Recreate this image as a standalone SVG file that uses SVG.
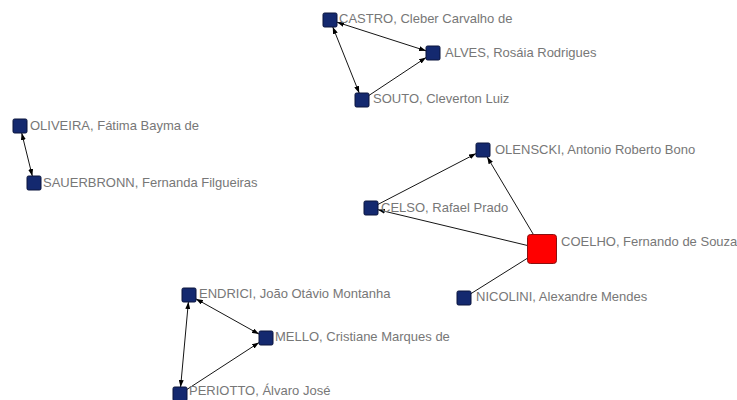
<svg xmlns="http://www.w3.org/2000/svg" width="737" height="400" viewBox="0 0 737 400">
<style>
.n{fill:#14296f;stroke:#0a143c;stroke-width:1}
.big{fill:#ff0000;stroke:#8a1010;stroke-width:1}
.e{stroke:#151515;stroke-width:1;fill:none}
.t{font-family:"Liberation Sans",Arial,sans-serif;font-size:13px;fill:#777777}
</style>
<defs>
<marker id="ah" viewBox="0 0 7 5" refX="7" refY="2.5" markerWidth="7" markerHeight="5" markerUnits="userSpaceOnUse" orient="auto-start-reverse">
<path d="M0,0 L7,2.5 L0,5 z" fill="#000"/>
</marker>
</defs>
<rect width="737" height="400" fill="#fff"/>
<g id="connectors">
<line class="e" x1="337" y1="22.2" x2="426" y2="50.8" marker-start="url(#ah)" marker-end="url(#ah)"/>
<line class="e" x1="332.8" y1="27" x2="359.2" y2="93" marker-start="url(#ah)" marker-end="url(#ah)"/>
<line class="e" x1="369" y1="95.4" x2="426" y2="57.6" marker-end="url(#ah)"/>
<line class="e" x1="21.7" y1="133" x2="32.3" y2="176" marker-start="url(#ah)" marker-end="url(#ah)"/>
<line class="e" x1="378" y1="204.4" x2="476" y2="153.6" marker-end="url(#ah)"/>
<line class="e" x1="533.4" y1="234.5" x2="487.2" y2="157" marker-end="url(#ah)"/>
<line class="e" x1="527.5" y1="245.5" x2="378" y2="209.7" marker-end="url(#ah)"/>
<line class="e" x1="471" y1="293.6" x2="530" y2="256.6"/>
<line class="e" x1="196" y1="298.9" x2="259" y2="334.1" marker-start="url(#ah)" marker-end="url(#ah)"/>
<line class="e" x1="188.4" y1="302" x2="180.6" y2="387" marker-start="url(#ah)" marker-end="url(#ah)"/>
<line class="e" x1="187" y1="389.4" x2="259" y2="342.6" marker-end="url(#ah)"/>
</g>
<g id="castro"><rect class="n" x="323" y="13" width="14" height="14" rx="1.5"/><text class="t" x="339" y="23">CASTRO, Cleber Carvalho de</text></g>
<g id="alves"><rect class="n" x="426" y="46" width="14" height="14" rx="1.5"/><text class="t" x="445" y="57">ALVES, Rosáia Rodrigues</text></g>
<g id="souto"><rect class="n" x="355" y="93" width="14" height="14" rx="1.5"/><text class="t" x="373" y="103">SOUTO, Cleverton Luiz</text></g>
<g id="oliveira"><rect class="n" x="13" y="119" width="14" height="14" rx="1.5"/><text class="t" x="30" y="130">OLIVEIRA, Fátima Bayma de</text></g>
<g id="sauerbronn"><rect class="n" x="27" y="176" width="14" height="14" rx="1.5"/><text class="t" x="43" y="186.5">SAUERBRONN, Fernanda Filgueiras</text></g>
<g id="olenscki"><rect class="n" x="476" y="143" width="14" height="14" rx="1.5"/><text class="t" x="495" y="154">OLENSCKI, Antonio Roberto Bono</text></g>
<g id="celso"><rect class="n" x="364" y="201" width="14" height="14" rx="1.5"/><text class="t" x="381" y="211.5">CELSO, Rafael Prado</text></g>
<g id="coelho"><rect class="big" x="527.5" y="234.5" width="29" height="29" rx="3"/><text class="t" x="561" y="246">COELHO, Fernando de Souza</text></g>
<g id="nicolini"><rect class="n" x="457" y="291" width="14" height="14" rx="1.5"/><text class="t" x="476" y="301">NICOLINI, Alexandre Mendes</text></g>
<g id="endrici"><rect class="n" x="182" y="288" width="14" height="14" rx="1.5"/><text class="t" x="199" y="298">ENDRICI, João Otávio Montanha</text></g>
<g id="mello"><rect class="n" x="259" y="331" width="14" height="14" rx="1.5"/><text class="t" x="275" y="340.5">MELLO, Cristiane Marques de</text></g>
<g id="periotto"><rect class="n" x="173" y="387" width="14" height="14" rx="1.5"/><text class="t" x="189" y="395">PERIOTTO, Álvaro José</text></g>
</svg>
